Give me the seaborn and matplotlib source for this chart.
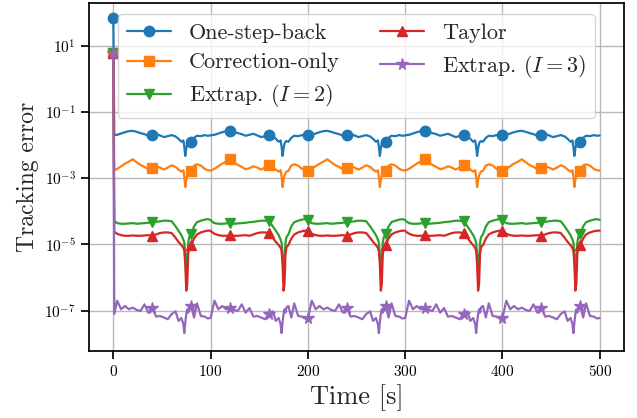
import numpy as np
import pandas as pd
import matplotlib
matplotlib.use("Agg")
import matplotlib.pyplot as plt
import matplotlib.ticker as mticker
import seaborn as sns

# ---------------- data ----------------
# one 100 s period of the steady-state pattern (offset in seconds)
period_t = [0, 1, 4, 8, 12, 16, 20, 24, 28, 32, 36, 40, 44, 48, 52, 56, 60,
            64, 67, 70, 72, 73, 74, 75, 76, 77, 78, 80, 83, 86, 90, 94, 97]
n_periods = 5

start_one_step = 67.0
start_others = 5.9

one_step_back = [1.95e-2, 2.00e-2, 2.04e-2, 2.24e-2, 2.45e-2, 2.63e-2, 2.69e-2,
                 2.51e-2, 2.29e-2, 2.14e-2, 1.91e-2, 2.04e-2, 2.19e-2, 1.95e-2,
                 1.74e-2, 1.86e-2, 2.00e-2, 1.82e-2, 1.55e-2, 1.26e-2, 1.38e-2,
                 8.9e-3, 4.7e-3, 7.9e-3, 1.12e-2, 1.26e-2, 1.32e-2, 1.26e-2,
                 1.66e-2, 1.91e-2, 1.86e-2, 2.00e-2, 1.91e-2]
correction_only = [1.70e-3, 1.74e-3, 1.91e-3, 2.29e-3, 2.75e-3, 3.16e-3, 3.72e-3,
                   3.02e-3, 2.51e-3, 2.19e-3, 1.86e-3, 2.00e-3, 2.29e-3, 2.09e-3,
                   1.82e-3, 2.09e-3, 2.45e-3, 2.19e-3, 1.82e-3, 1.58e-3, 1.74e-3,
                   1.12e-3, 5.4e-4, 8.9e-4, 1.20e-3, 1.41e-3, 1.58e-3, 1.66e-3,
                   2.40e-3, 2.63e-3, 2.40e-3, 1.91e-3, 1.74e-3]
extrap_2 = [5.5e-5, 5.0e-5, 4.4e-5, 4.2e-5, 4.2e-5, 4.3e-5, 4.4e-5,
            4.2e-5, 4.3e-5, 4.4e-5, 4.5e-5, 4.7e-5, 4.8e-5, 5.0e-5,
            5.2e-5, 5.2e-5, 5.0e-5, 3.5e-5, 2.6e-5, 1.9e-5, 1.4e-5,
            1.12e-5, 5.0e-6, 9.1e-7, 3.2e-6, 1.12e-5, 1.66e-5, 2.0e-5,
            3.5e-5, 4.7e-5, 5.2e-5, 5.6e-5, 5.8e-5]
taylor = [2.6e-5, 2.4e-5, 2.1e-5, 1.9e-5, 1.82e-5, 1.82e-5, 1.86e-5,
          1.82e-5, 1.82e-5, 1.86e-5, 1.9e-5, 1.82e-5, 2.0e-5, 2.2e-5,
          2.3e-5, 2.3e-5, 2.2e-5, 1.58e-5, 1.2e-5, 9.5e-6, 7.9e-6,
          6.3e-6, 2.5e-6, 4.0e-7, 6.3e-7, 5.0e-6, 8.3e-6, 9.5e-6,
          1.5e-5, 2.0e-5, 2.3e-5, 2.5e-5, 2.6e-5]
extrap_3 = [6.0e-8, 7.9e-8, 2.0e-7, 1.1e-7, 1.38e-7, 1.1e-7, 1.23e-7,
            1.05e-7, 9.8e-8, 1.55e-7, 8.7e-8, 1.2e-7, 6.6e-8, 6.9e-8,
            6.2e-8, 5.5e-8, 7.9e-8, 9.5e-8, 4.9e-8, 6.0e-8, 3.9e-8,
            2.1e-8, 4.4e-8, 7.9e-8, 1.1e-7, 8.7e-8, 1.26e-7, 1.38e-7,
            6.2e-8, 1.66e-7, 6.9e-8, 6.6e-8, 5.8e-8]

labels = ["One-step-back", "Correction-only", r"Extrap. $(I=2)$",
          "Taylor", r"Extrap. $(I=3)$"]
colors = ["#1f77b4", "#ff7f0e", "#2ca02c", "#d62728", "#9467bd"]
markers = ["o", "s", "v", "^", "*"]
marker_step = 40  # a marker every 40 s

# ---------------- build the time series ----------------
pt = np.array(period_t, dtype=float)
time = np.concatenate([pt + 100 * k for k in range(n_periods)] + [np.array([100.0 * n_periods])])


def build(period_vals, start):
    v = np.asarray(period_vals, dtype=float)
    full = np.concatenate([np.tile(v, n_periods), v[:1]])
    full[0] = start
    return full


series = [build(one_step_back, start_one_step),
          build(correction_only, start_others),
          build(extrap_2, start_others),
          build(taylor, start_others),
          build(extrap_3, start_others)]

mark_idx = list(np.where(np.isclose(np.mod(time, marker_step), 0))[0])

# ---------------- style ----------------
sns.set_theme(style="ticks", rc={
    "axes.grid": True,
    "grid.color": "#b8b8b8",
    "grid.linewidth": 1.0,
    "axes.edgecolor": "black",
    "axes.linewidth": 1.25,
    "xtick.color": "black",
    "ytick.color": "black",
})
plt.rcParams["font.family"] = ["cmr10", "DejaVu Serif"]
plt.rcParams["mathtext.fontset"] = "cm"
plt.rcParams["axes.formatter.use_mathtext"] = True
plt.rcParams["axes.unicode_minus"] = True

fig, ax = plt.subplots(figsize=(6.37, 4.18), dpi=100)
fig.subplots_adjust(left=0.1397, right=0.9796, bottom=0.161, top=0.992)

ax.set_yscale("log")
for vals, lab, col, mk in zip(series, labels, colors, markers):
    df = pd.DataFrame({"Time": time, "Error": vals})
    sns.lineplot(data=df, x="Time", y="Error", ax=ax, color=col, label=lab,
                 marker=mk, markevery=mark_idx, markersize=8.5 if mk == "*" else 7.5,
                 markeredgecolor=col, markeredgewidth=1.0, linewidth=1.6)

ax.set_xlim(-25, 525)
ax.set_ylim(10 ** -8.21, 10 ** 2.28)
ax.set_xticks([0, 100, 200, 300, 400, 500])
ax.set_yticks([1e1, 1e-1, 1e-3, 1e-5, 1e-7])
ax.yaxis.set_minor_locator(mticker.NullLocator())
ax.tick_params(axis="both", labelsize=11)
ax.set_xlabel("Time [s]", fontsize=19)
ax.set_ylabel("Tracking error", fontsize=17)
for s in ax.spines.values():
    s.set_visible(True)
ax.grid(True, which="major")

ax.legend(loc="upper center", ncol=2, fontsize=16, framealpha=0.8,
          labelspacing=0.45, columnspacing=1.8)

fig.savefig("out.png", dpi=100)
